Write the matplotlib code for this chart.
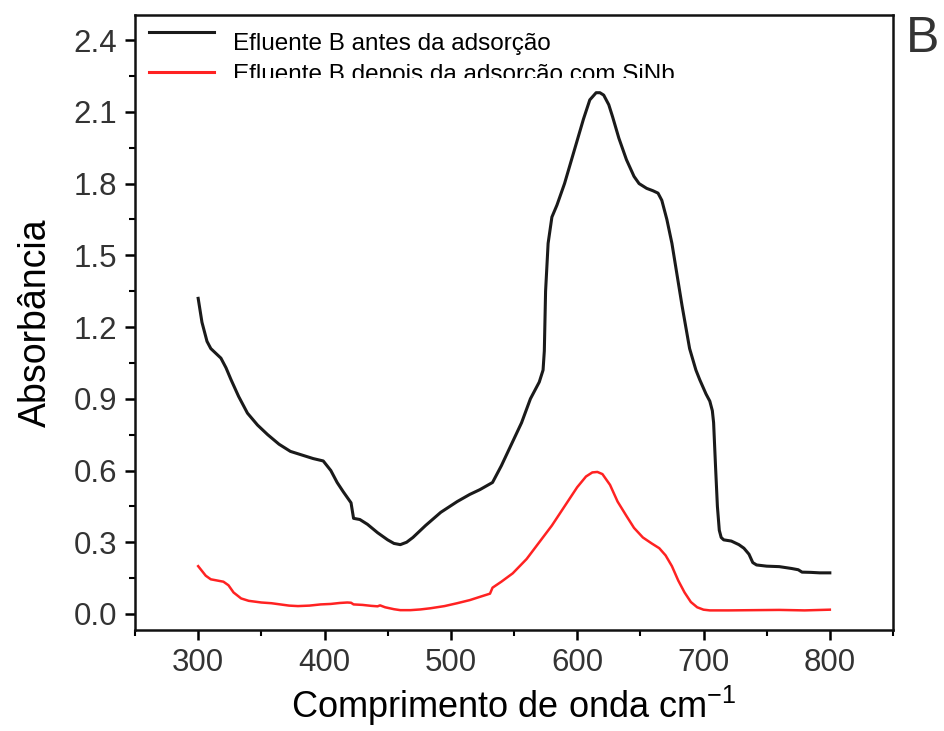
import matplotlib
matplotlib.use('Agg')
import matplotlib.pyplot as plt
from matplotlib.lines import Line2D
from matplotlib.ticker import MultipleLocator
from matplotlib.transforms import Bbox, TransformedBbox

plt.rcParams['font.family'] = ['Liberation Sans', 'DejaVu Sans']
plt.rcParams['mathtext.fontset'] = 'custom'
plt.rcParams['mathtext.rm'] = 'Liberation Sans'
plt.rcParams['mathtext.default'] = 'regular'

# Efluente B antes da adsorcao (black)
x_antes = [300, 303, 307, 310, 314, 318, 322, 326, 332, 339, 347, 355, 364, 373, 382, 391,
           399, 405, 410, 415, 419, 421, 423, 428, 434, 442, 450, 455, 460, 465, 470, 480,
           492, 505, 515, 523, 533, 540, 548, 556, 563, 570, 573, 574, 575, 577, 580, 584,
           590, 595, 600, 605, 610, 615, 618, 621, 625, 628, 633, 639, 645, 649, 655, 660,
           664, 667, 671, 675, 679, 683, 689, 694, 697, 702, 705, 707, 708, 709.5, 711, 712.5,
           714, 716, 722, 728, 732, 736, 739, 742, 750, 760, 770, 775, 778, 785, 792, 800]
y_antes = [1.32, 1.22, 1.14, 1.11, 1.09, 1.07, 1.03, 0.98, 0.91, 0.84, 0.79, 0.75, 0.71, 0.68, 0.665, 0.65,
           0.64, 0.60, 0.55, 0.51, 0.48, 0.465, 0.40, 0.395, 0.375, 0.34, 0.31, 0.295, 0.29, 0.30, 0.32, 0.37,
           0.425, 0.47, 0.50, 0.52, 0.55, 0.62, 0.71, 0.80, 0.90, 0.97, 1.02, 1.10, 1.35, 1.55, 1.66, 1.71,
           1.80, 1.89, 1.98, 2.07, 2.15, 2.18, 2.18, 2.17, 2.13, 2.08, 1.99, 1.90, 1.83, 1.80, 1.78, 1.77,
           1.76, 1.73, 1.65, 1.55, 1.42, 1.29, 1.11, 1.02, 0.98, 0.92, 0.89, 0.85, 0.80, 0.62, 0.45, 0.35,
           0.32, 0.31, 0.305, 0.29, 0.275, 0.25, 0.215, 0.205, 0.20, 0.198, 0.19, 0.185, 0.175, 0.174, 0.172, 0.172]

# Efluente B depois da adsorcao com SiNb (red)
x_depois = [300, 303, 306, 310, 315, 320, 324, 328, 334, 340, 350, 358, 365, 372, 379, 388,
            397, 405, 412, 418, 421, 423, 430, 437, 442, 444, 448, 455, 460, 468, 476, 484,
            495, 505, 515, 525, 531, 533, 540, 549, 560, 570, 580, 590, 600, 607, 612, 616,
            620, 626, 632, 639, 645, 652, 659, 665, 670, 675, 680, 685, 690, 695, 700, 705,
            720, 740, 760, 780, 800]
y_depois = [0.20, 0.18, 0.16, 0.145, 0.14, 0.135, 0.12, 0.09, 0.065, 0.055, 0.048, 0.045, 0.04, 0.035, 0.033, 0.035,
            0.04, 0.042, 0.046, 0.048, 0.047, 0.04, 0.038, 0.034, 0.032, 0.036, 0.028, 0.02, 0.016, 0.016, 0.019, 0.024,
            0.033, 0.045, 0.058, 0.075, 0.085, 0.11, 0.135, 0.17, 0.23, 0.30, 0.37, 0.45, 0.53, 0.575, 0.592, 0.594,
            0.585, 0.54, 0.47, 0.41, 0.36, 0.32, 0.295, 0.275, 0.245, 0.20, 0.14, 0.09, 0.05, 0.028, 0.018, 0.015,
            0.015, 0.016, 0.017, 0.015, 0.018]

legend_labels = ['Efluente B antes da adsorção', 'Efluente B depois da adsorção com SiNb']

W, H = 944, 731
fig = plt.figure(figsize=(W / 100, H / 100), dpi=100)
ax = fig.add_axes([135 / W, 1 - 630 / H, (893 - 135) / W, (630 - 15) / H])

ax.plot(x_antes, y_antes, color='#1a1a1a', lw=2.2)
ax.plot(x_depois, y_depois, color='#ff2222', lw=1.8)

ax.set_xlim(250, 850)
ax.set_ylim(-0.067, 2.505)
ax.xaxis.set_major_locator(MultipleLocator(100))
ax.xaxis.set_minor_locator(MultipleLocator(50))
ax.yaxis.set_major_locator(MultipleLocator(0.3))
ax.yaxis.set_minor_locator(MultipleLocator(0.15))
ax.yaxis.set_major_formatter(matplotlib.ticker.FormatStrFormatter('%.1f'))
ax.set_xticks([300, 400, 500, 600, 700, 800])

for s in ax.spines.values():
    s.set_linewidth(1.8)
    s.set_color('#111111')
ax.tick_params(which='major', direction='out', length=7, width=1.8, labelsize=22.5,
               labelcolor='#333333', top=False, right=False, pad=6)
ax.tick_params(which='minor', direction='out', length=4, width=1.5, top=False, right=False)

ax.set_xlabel('Comprimento de onda cm$^{-1}$', fontsize=26, labelpad=4)
ax.set_ylabel('Absorbância', fontsize=27, labelpad=14)

def fx(px):
    return px / W

def fy(py):
    return 1 - py / H

# legend drawn by hand (the original overlay is cut at the bottom)
fig.add_artist(Line2D([fx(149), fx(214)], [fy(32), fy(32)], color='#1a1a1a', lw=2.2))
fig.add_artist(Line2D([fx(149), fx(214)], [fy(72), fy(72)], color='#ff2222', lw=2.2))
fig.text(fx(233), fy(50), legend_labels[0], fontsize=17.5, va='baseline', ha='left')
t2 = fig.text(fx(233), fy(81), legend_labels[1], fontsize=17.5, va='baseline', ha='left')
clip = TransformedBbox(Bbox([[0, fy(78)], [1, 1]]), fig.transFigure)
t2.set_clip_box(clip)
t2.set_clip_on(True)

fig.text(fx(923), fy(39), 'B', fontsize=36, color='#333333', ha='center', va='center')

fig.savefig('out.png', dpi=100)
